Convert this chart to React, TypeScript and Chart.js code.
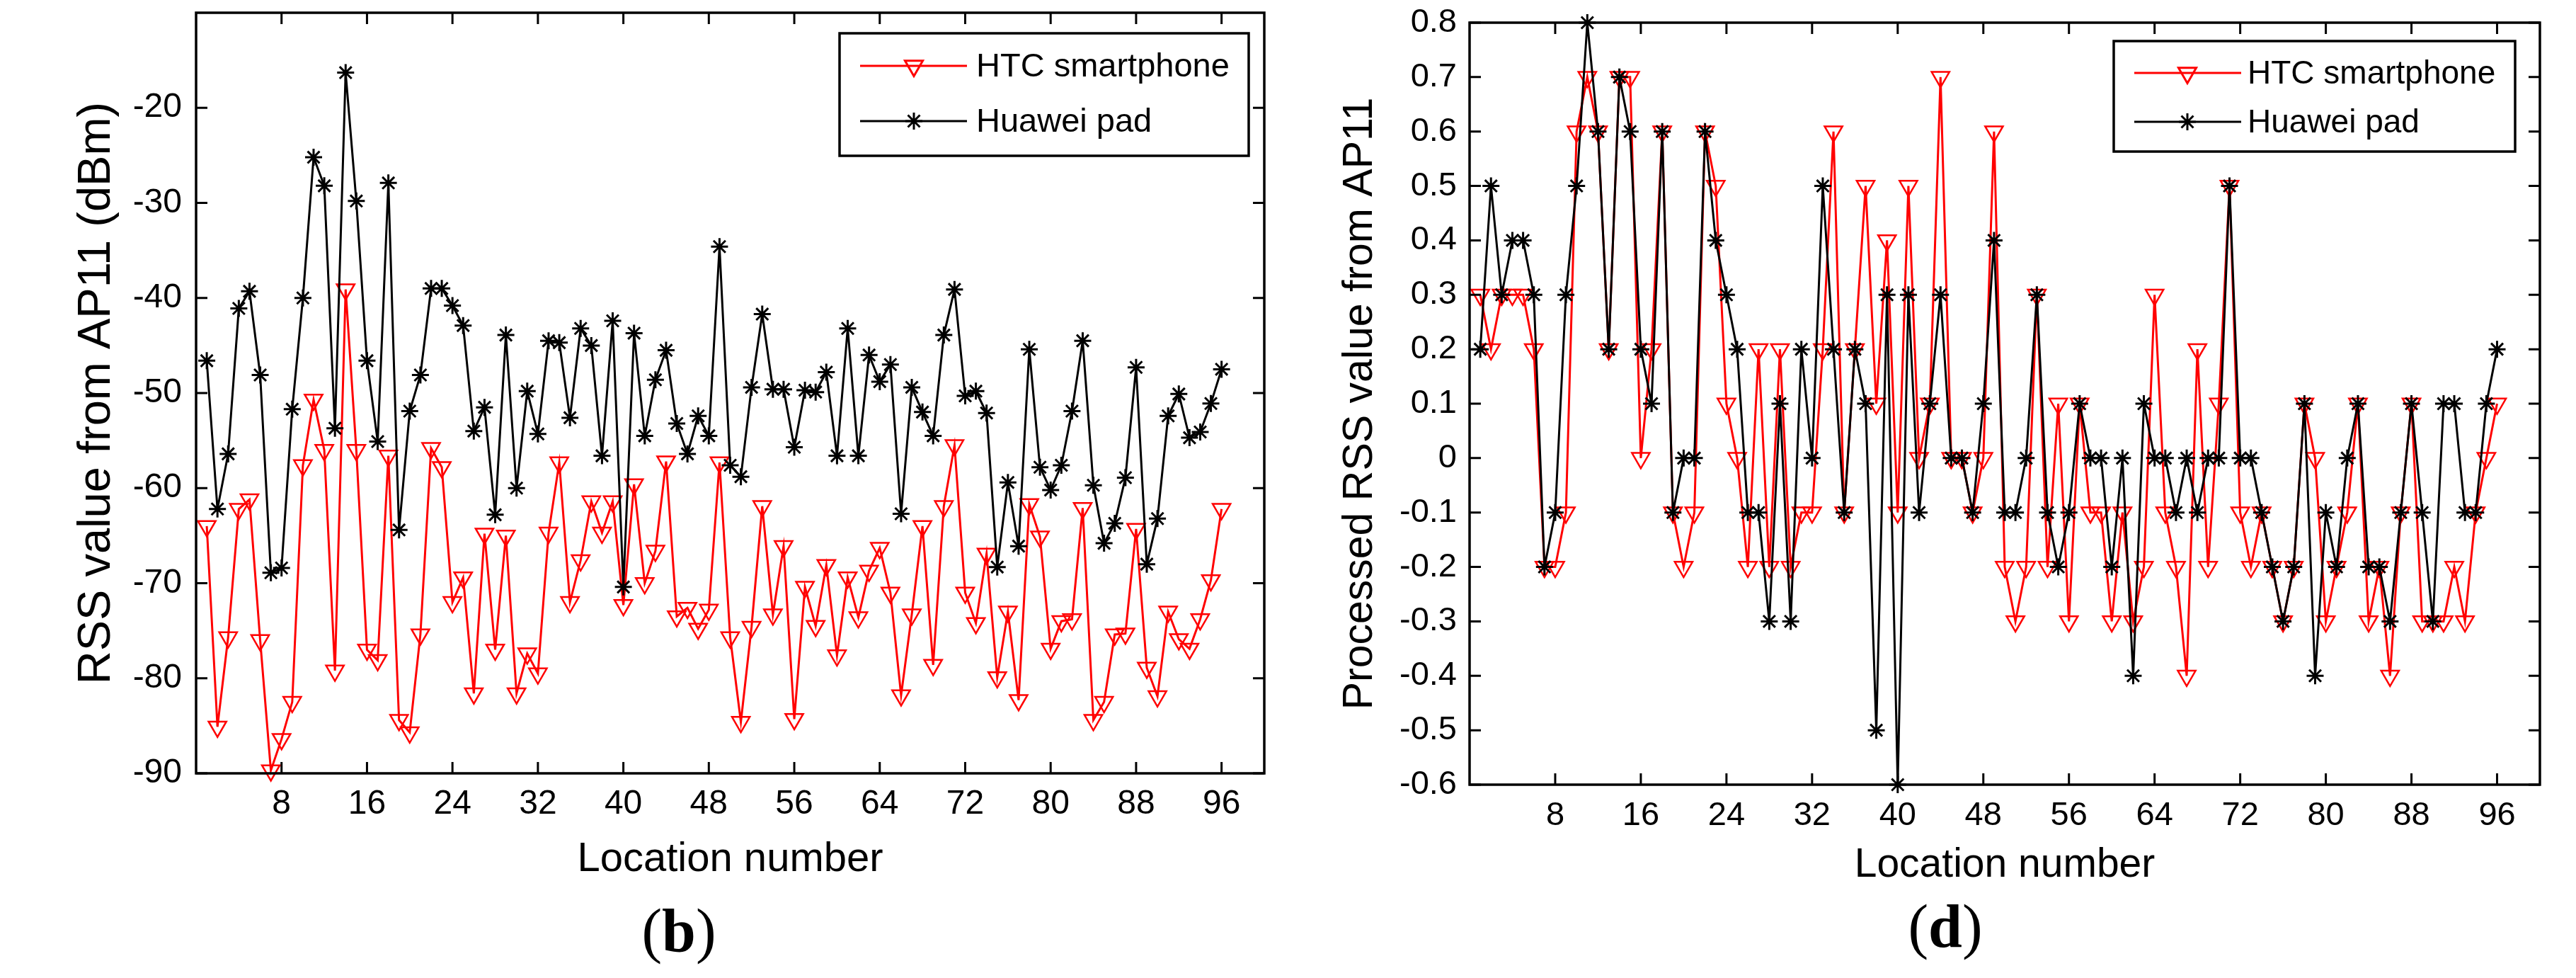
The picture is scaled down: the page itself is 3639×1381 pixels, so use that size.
import { useEffect, useRef } from 'react';
import { Chart, registerables } from 'chart.js';
import { drawPoint } from 'chart.js/helpers';

Chart.register(...registerables);

// ---- data ----
const locationTicks = [8, 16, 24, 32, 40, 48, 56, 64, 72, 80, 88, 96];
const rssTicks = [-90, -80, -70, -60, -50, -40, -30, -20];
const processedTicks = [-0.6, -0.5, -0.4, -0.3, -0.2, -0.1, 0, 0.1, 0.2, 0.3, 0.4, 0.5, 0.6, 0.7, 0.8];

const seriesNames = ['HTC smartphone', 'Huawei pad'];

// (b) RSS value from AP11 (dBm), locations 1..96
const htcRss = [
  -64, -85.1, -75.7, -62.2, -61.2, -76, -89.7, -86.4, -82.5, -57.6, -50.7, -56,
  -79.2, -39.1, -56, -77, -78.1, -56.6, -84.4, -85.7, -75.4, -55.8, -57.8, -72,
  -69.4, -81.6, -64.8, -77, -65, -81.6, -77.4, -79.5, -64.7, -57.3, -72, -67.6,
  -61.4, -64.7, -61.4, -72.3, -59.6, -70, -66.6, -57.2, -73.5, -72.6, -74.8, -72.8,
  -57.3, -75.7, -84.6, -74.6, -61.9, -73.3, -66.1, -84.3, -70.4, -74.5, -68.1, -77.6,
  -69.4, -73.6, -68.7, -66.3, -71, -81.8, -73.3, -64, -78.6, -61.9, -55.5, -71,
  -74.2, -66.9, -79.9, -73, -82.3, -61.7, -65.1, -76.9, -74, -73.8, -62.1, -84.4,
  -82.5, -75.4, -75.3, -64.3, -78.9, -81.9, -73, -75.9, -76.9, -73.8, -69.7, -62.2,
];
const huaweiRss = [
  -46.6, -62.2, -56.4, -41.1, -39.3, -48.1, -68.9, -68.4, -51.7, -40, -25.2, -28.2,
  -53.7, -16.3, -29.8, -46.6, -55.1, -27.9, -64.4, -51.9, -48.1, -39, -39, -40.8,
  -42.9, -54, -51.5, -62.8, -43.9, -60, -49.8, -54.3, -44.5, -44.7, -52.6, -43.2,
  -45, -56.6, -42.4, -70.4, -43.7, -54.5, -48.6, -45.5, -53.2, -56.4, -52.4, -54.5,
  -34.6, -57.6, -58.8, -49.4, -41.7, -49.6, -49.6, -55.7, -49.7, -49.9, -47.8, -56.6,
  -43.2, -56.6, -46, -48.8, -47, -62.7, -49.4, -52, -54.5, -43.9, -39.1, -50.3,
  -49.8, -52.1, -68.3, -59.4, -66.1, -45.4, -57.8, -60.2, -57.6, -51.9, -44.5, -59.7,
  -65.8, -63.7, -58.9, -47.3, -68, -63.2, -52.4, -50.1, -54.7, -54.1, -51.1, -47.5,
];

// (d) Processed RSS value from AP11, locations 1..96
const htcProcessed = [
  0.3, 0.2, 0.3, 0.3, 0.3, 0.2, -0.2, -0.2, -0.1, 0.6, 0.7, 0.6,
  0.2, 0.7, 0.7, 0, 0.2, 0.6, -0.1, -0.2, -0.1, 0.6, 0.5, 0.1,
  0, -0.2, 0.2, -0.2, 0.2, -0.2, -0.1, -0.1, 0.2, 0.6, -0.1, 0.2,
  0.5, 0.1, 0.4, -0.1, 0.5, 0, 0.1, 0.7, 0, 0, -0.1, 0,
  0.6, -0.2, -0.3, -0.2, 0.3, -0.2, 0.1, -0.3, 0.1, -0.1, -0.1, -0.3,
  -0.1, -0.3, -0.2, 0.3, -0.1, -0.2, -0.4, 0.2, -0.2, 0.1, 0.5, -0.1,
  -0.2, -0.1, -0.2, -0.3, -0.2, 0.1, 0, -0.3, -0.2, -0.1, 0.1, -0.3,
  -0.2, -0.4, -0.1, 0.1, -0.3, -0.3, -0.3, -0.2, -0.3, -0.1, 0, 0.1,
];
const huaweiProcessed = [
  0.2, 0.5, 0.3, 0.4, 0.4, 0.3, -0.2, -0.1, 0.3, 0.5, 0.8, 0.6,
  0.2, 0.7, 0.6, 0.2, 0.1, 0.6, -0.1, 0, 0, 0.6, 0.4, 0.3,
  0.2, -0.1, -0.1, -0.3, 0.1, -0.3, 0.2, 0, 0.5, 0.2, -0.1, 0.2,
  0.1, -0.5, 0.3, -0.6, 0.3, -0.1, 0.1, 0.3, 0, 0, -0.1, 0.1,
  0.4, -0.1, -0.1, 0, 0.3, -0.1, -0.2, -0.1, 0.1, 0, 0, -0.2,
  0, -0.4, 0.1, 0, 0, -0.1, 0, -0.1, 0, 0, 0.5, 0,
  0, -0.1, -0.2, -0.3, -0.2, 0.1, -0.4, -0.1, -0.2, 0, 0.1, -0.2,
  -0.2, -0.3, -0.1, 0.1, -0.1, -0.3, 0.1, 0.1, -0.1, -0.1, 0.1, 0.2,
];

const FONT = "'Liberation Sans', Arial, Helvetica, sans-serif";
const PAGE_H = 1381;

interface LegendSpec {
  right: number;
  top: number;
  width: number;
  height: number;
  rows: number[];
  lineFrom: number;
  lineTo: number;
  marker: number;
  textX: number;
  fontSize: number;
}

interface PanelSpec {
  left: number;
  width: number;
  area: { left: number; top: number; right: number; bottom: number };
  yTitle: string;
  yMin: number;
  yMax: number;
  yTicks: number[];
  htc: number[];
  huawei: number[];
  tickSize: number;
  tickPadX: number;
  tickPadY: number;
  yTitleSize: number;
  yTitleCenter: number;
  xTitleSize: number;
  xTitleFromBottom: number;
  legend: LegendSpec;
}

// MATLAB-like box with inward tick marks on all four sides
const boxAxes = {
  id: 'boxAxes',
  afterDatasetsDraw(chart: any) {
    const { ctx, chartArea, scales } = chart;
    const { left, right, top, bottom } = chartArea;
    const L = 16;
    ctx.save();
    ctx.strokeStyle = '#000';
    ctx.lineWidth = 3;
    ctx.beginPath();
    scales.x.ticks.forEach((t: any) => {
      const px = scales.x.getPixelForValue(t.value);
      ctx.moveTo(px, bottom);
      ctx.lineTo(px, bottom - L);
      ctx.moveTo(px, top);
      ctx.lineTo(px, top + L);
    });
    scales.y.ticks.forEach((t: any) => {
      const py = scales.y.getPixelForValue(t.value);
      ctx.moveTo(left, py);
      ctx.lineTo(left + L, py);
      ctx.moveTo(right, py);
      ctx.lineTo(right - L, py);
    });
    ctx.stroke();
    ctx.lineWidth = 3.5;
    ctx.strokeRect(left, top, right - left, bottom - top);
    ctx.restore();
  },
};

// legend with line sample and marker in the middle
const lineLegend = {
  id: 'lineLegend',
  afterDraw(chart: any, _args: any, opts: LegendSpec) {
    const { ctx, chartArea } = chart;
    const x0 = chartArea.right - opts.right - opts.width;
    const y0 = chartArea.top + opts.top;
    ctx.save();
    ctx.fillStyle = '#fff';
    ctx.fillRect(x0, y0, opts.width, opts.height);
    ctx.strokeStyle = '#000';
    ctx.lineWidth = 3.5;
    ctx.strokeRect(x0, y0, opts.width, opts.height);
    chart.data.datasets.forEach((ds: any, i: number) => {
      const y = y0 + opts.rows[i];
      ctx.strokeStyle = ds.borderColor;
      ctx.lineWidth = ds.borderWidth;
      ctx.beginPath();
      ctx.moveTo(x0 + opts.lineFrom, y);
      ctx.lineTo(x0 + opts.lineTo, y);
      ctx.stroke();
      ctx.strokeStyle = ds.pointBorderColor;
      ctx.fillStyle = ds.pointBackgroundColor;
      drawPoint(ctx, {
        pointStyle: ds.pointStyle,
        rotation: ds.pointRotation,
        radius: ds.pointRadius,
        borderWidth: ds.pointBorderWidth,
      }, x0 + opts.marker, y);
      ctx.fillStyle = '#000';
      ctx.font = `${opts.fontSize}px ${FONT}`;
      ctx.textBaseline = 'middle';
      ctx.textAlign = 'left';
      ctx.fillText(ds.label, x0 + opts.textX, y + 2);
    });
    ctx.restore();
  },
};

function buildConfig(p: PanelSpec): any {
  const toPoints = (vals: number[]) => vals.map((v, i) => ({ x: i + 1, y: v }));
  const yLine = p.yTitleSize * 1.2;
  const xLine = p.xTitleSize * 1.2;
  const fmt = (v: number) => String(Number(v.toFixed(1)));
  return {
    type: 'line',
    data: {
      datasets: [
        {
          label: seriesNames[0],
          data: toPoints(p.htc),
          borderColor: '#ff0000',
          borderWidth: 3,
          pointStyle: 'triangle',
          pointRotation: 180,
          pointRadius: 14.5,
          pointBorderWidth: 2.5,
          pointBorderColor: '#ff0000',
          pointBackgroundColor: 'rgba(255,255,255,0)',
          tension: 0,
          clip: false,
          order: 1,
        },
        {
          label: seriesNames[1],
          data: toPoints(p.huawei),
          borderColor: '#000000',
          borderWidth: 3,
          pointStyle: 'star',
          pointRotation: 0,
          pointRadius: 12,
          pointBorderWidth: 3,
          pointBorderColor: '#000000',
          pointBackgroundColor: '#000000',
          tension: 0,
          clip: false,
          order: 0,
        },
      ],
    },
    options: {
      responsive: false,
      animation: false,
      devicePixelRatio: 1,
      events: [],
      layout: {
        padding: { left: 0, top: p.area.top, right: p.width - p.area.right, bottom: 0 },
      },
      plugins: {
        legend: { display: false },
        tooltip: { enabled: false },
        lineLegend: p.legend,
      },
      scales: {
        x: {
          type: 'linear',
          min: 0,
          max: 100,
          grid: { display: false, drawTicks: false },
          border: { display: false },
          afterBuildTicks: (s: any) => {
            s.ticks = locationTicks.map((v) => ({ value: v }));
          },
          afterFit: (s: any) => {
            s.height = PAGE_H - p.area.bottom;
            s.paddingLeft = 0;
            s.paddingRight = 0;
          },
          ticks: {
            autoSkip: false,
            maxRotation: 0,
            padding: p.tickPadX,
            color: '#000',
            font: { family: FONT, size: p.tickSize },
            callback: (v: number) => String(v),
          },
          title: {
            display: true,
            text: 'Location number',
            color: '#000',
            font: { family: FONT, size: p.xTitleSize },
            padding: { top: 0, bottom: p.xTitleFromBottom - xLine / 2 },
          },
        },
        y: {
          type: 'linear',
          min: p.yMin,
          max: p.yMax,
          grid: { display: false, drawTicks: false },
          border: { display: false },
          afterBuildTicks: (s: any) => {
            s.ticks = p.yTicks.map((v) => ({ value: v }));
          },
          afterFit: (s: any) => {
            s.width = p.area.left;
            s.paddingTop = 0;
            s.paddingBottom = 0;
          },
          ticks: {
            autoSkip: false,
            padding: p.tickPadY,
            color: '#000',
            font: { family: FONT, size: p.tickSize },
            callback: (v: number) => fmt(v),
          },
          title: {
            display: true,
            text: p.yTitle,
            color: '#000',
            font: { family: FONT, size: p.yTitleSize },
            padding: { top: p.yTitleCenter - yLine / 2, bottom: 0 },
          },
        },
      },
    },
    plugins: [boxAxes, lineLegend],
  };
}

const panelB: PanelSpec = {
  left: 0,
  width: 1820,
  area: { left: 277, top: 18, right: 1786, bottom: 1092 },
  yTitle: 'RSS value from AP11 (dBm)',
  yMin: -90,
  yMax: -10,
  yTicks: rssTicks,
  htc: htcRss,
  huawei: huaweiRss,
  tickSize: 48,
  tickPadX: 15,
  tickPadY: 20,
  yTitleSize: 65,
  yTitleCenter: 137,
  xTitleSize: 58,
  xTitleFromBottom: 167,
  legend: {
    right: 22, top: 29, width: 578, height: 173, rows: [46, 124],
    lineFrom: 29, lineTo: 180, marker: 105, textX: 193, fontSize: 47,
  },
};

const panelD: PanelSpec = {
  left: 1820,
  width: 1819,
  area: { left: 256, top: 32, right: 1768, bottom: 1108 },
  yTitle: 'Processed RSS value from AP11',
  yMin: -0.6,
  yMax: 0.8,
  yTicks: processedTicks,
  htc: htcProcessed,
  huawei: huaweiProcessed,
  tickSize: 47,
  tickPadX: 16,
  tickPadY: 18,
  yTitleSize: 59,
  yTitleCenter: 102,
  xTitleSize: 57,
  xTitleFromBottom: 159,
  legend: {
    right: 35, top: 26, width: 567, height: 156, rows: [45, 114],
    lineFrom: 29, lineTo: 180, marker: 104, textX: 189, fontSize: 46,
  },
};

function Panel({ spec }: { spec: PanelSpec }) {
  const canvasRef = useRef<HTMLCanvasElement>(null);
  const chartRef = useRef<Chart | null>(null);

  useEffect(() => {
    if (!canvasRef.current) return;
    if (chartRef.current) chartRef.current.destroy();
    chartRef.current = new Chart(canvasRef.current, buildConfig(spec));
    return () => {
      if (chartRef.current) {
        chartRef.current.destroy();
        chartRef.current = null;
      }
    };
  }, [spec]);

  return (
    <canvas
      ref={canvasRef}
      width={spec.width}
      height={PAGE_H}
      style={{ position: 'absolute', left: spec.left, top: 0, width: spec.width, height: PAGE_H }}
    />
  );
}

function Caption({ x, y, letter }: { x: number; y: number; letter: string }) {
  return (
    <div
      style={{
        position: 'absolute',
        left: x,
        top: y,
        transform: 'translate(-50%, -50%)',
        fontFamily: "'Liberation Serif', 'Times New Roman', serif",
        fontSize: 86,
        lineHeight: 1,
        color: '#000',
        whiteSpace: 'nowrap',
      }}
    >
      (<b>{letter}</b>)
    </div>
  );
}

export default function App() {
  return (
    <div style={{ position: 'absolute', left: 0, top: 0, width: 3639, height: PAGE_H, background: '#fff', overflow: 'hidden' }}>
      <Panel spec={panelB} />
      <Panel spec={panelD} />
      <Caption x={959} y={1314} letter="b" />
      <Caption x={2748} y={1308} letter="d" />
    </div>
  );
}
